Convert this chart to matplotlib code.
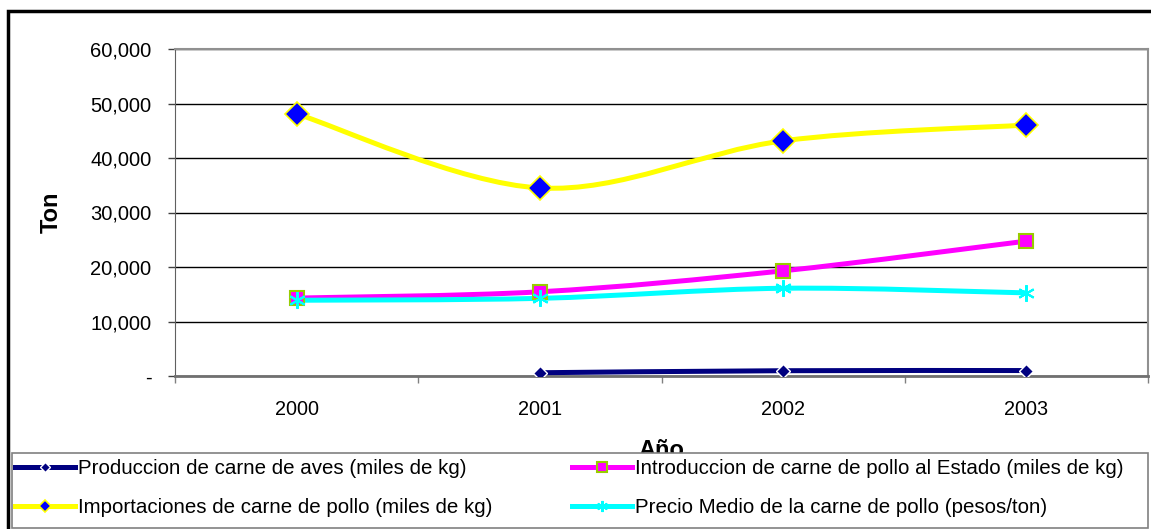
import numpy as np
import matplotlib.pyplot as plt
from matplotlib.path import Path
from matplotlib.patches import PathPatch, Rectangle
from matplotlib.lines import Line2D
from matplotlib.ticker import FuncFormatter

plt.rcParams['font.family'] = ['Liberation Sans', 'DejaVu Sans']

# datos
anios = ['2000', '2001', '2002', '2003']
produccion = [np.nan, 600, 970, 1000]
introduccion = [14300, 15450, 19300, 24750]
importaciones = [48100, 34500, 43150, 46050]
precio = [13900, 14250, 16100, 15250]

nombres = ['Produccion de carne de aves (miles de kg)',
           'Introduccion de carne de pollo al Estado (miles de kg)',
           'Importaciones de carne de pollo (miles de kg)',
           'Precio Medio de la carne de pollo (pesos/ton)']


def curva_suave(x, y):
    # curva tipo Excel (Catmull-Rom) como path de Bezier
    pts = [(a, b) for a, b in zip(x, y) if not np.isnan(b)]
    pts = np.array(pts, dtype=float)
    verts = [pts[0]]
    codes = [Path.MOVETO]
    n = len(pts)
    for i in range(n - 1):
        p0 = pts[max(i - 1, 0)]
        p1 = pts[i]
        p2 = pts[i + 1]
        p3 = pts[min(i + 2, n - 1)]
        c1 = p1 + (p2 - p0) / 6.0
        c2 = p2 - (p3 - p1) / 6.0
        verts += [c1, c2, p2]
        codes += [Path.CURVE4] * 3
    return Path(verts, codes)


fig = plt.figure(figsize=(11.51, 5.29), dpi=100)
ax = fig.add_axes([175 / 1151, 1 - 376 / 529, 973 / 1151, 327 / 529])

x = np.arange(len(anios))

# (datos, color linea, marcador, tam. en grafico, tam. en leyenda)
estilos = [
    (produccion, '#000080', dict(marker='D', mfc='#000080', mec='white', mew=1), 7, 5.5),
    (introduccion, '#FF00FF', dict(marker='s', mfc='#FF00FF', mec='#99CC00', mew=1.5), 10, 7),
    (importaciones, '#FFFF00', dict(marker='D', mfc='#0000FF', mec='#FFFF00', mew=1.2), 12, 6.5),
    (precio, '#00FFFF', dict(marker=(6, 2, 0), mfc='#00FFFF', mec='#00FFFF', mew=1.5), 12, 8),
]

handles = []
for datos, color, mk, ms, ms_leg in estilos:
    ax.add_patch(PathPatch(curva_suave(x, datos), fill=False, edgecolor=color,
                           lw=3.6, capstyle='round', joinstyle='round', zorder=3))
    ax.plot(x, datos, ls='none', ms=ms, zorder=4, **mk)
    handles.append(Line2D([], [], color=color, lw=3.6, ms=ms_leg, **mk))

ax.set_xlim(-0.5, 3.5)
ax.set_ylim(0, 60000)
ax.set_yticks(np.arange(0, 60001, 10000))
ax.yaxis.set_major_formatter(FuncFormatter(lambda v, p: '-' if v == 0 else f'{v:,.0f}'))
ax.set_xticks(x)
ax.set_xticklabels(anios)
ax.set_xticks(np.arange(-0.5, 3.6, 1), minor=True)
ax.tick_params(axis='x', which='major', length=0, pad=17, labelsize=14.3)
ax.tick_params(axis='x', which='minor', length=5, width=1, color='#808080')
ax.tick_params(axis='y', length=5, width=1, color='#404040', labelsize=14.5, pad=12)
ax.grid(axis='y', color='black', lw=1)
ax.set_axisbelow(True)
for s in ['top', 'right']:
    ax.spines[s].set_color('#909090')
    ax.spines[s].set_linewidth(1.5)
ax.spines['left'].set_color('#606060')
ax.spines['bottom'].set_color('#707070')
ax.spines['bottom'].set_linewidth(2)

ax.set_ylabel('Ton', fontsize=17, fontweight='bold', labelpad=20)
ax.set_xlabel('Año', fontsize=17, fontweight='bold', labelpad=15)

orden = [0, 2, 1, 3]
leg = fig.legend([handles[i] for i in orden], [nombres[i] for i in orden],
                 ncol=2, loc='upper left',
                 bbox_to_anchor=(15 / 1151, 1 - 459 / 529),
                 fontsize=14.8, handlelength=2.9, handletextpad=0.15,
                 labelspacing=0.97, columnspacing=3.9, borderaxespad=0,
                 borderpad=0, frameon=False)
leg.set_zorder(10)

# marco de la leyenda
fig.patches.append(Rectangle((12 / 1151, 1 - 528 / 529), 1136 / 1151, 75 / 529,
                             transform=fig.transFigure, facecolor='white',
                             edgecolor='#808080', lw=1.2, zorder=9))

fig.patches.append(Rectangle((8 / 1151, -0.5), 2, 1.5 - 11 / 529, transform=fig.transFigure,
                             fill=False, edgecolor='black', lw=2.5))

fig.savefig('out.png', dpi=100)
